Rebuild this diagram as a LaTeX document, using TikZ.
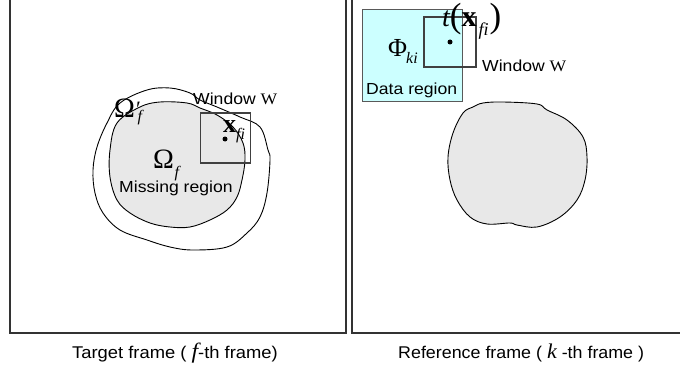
\documentclass[tikz,border=0pt]{standalone}
\usepackage{fontspec}
\setmainfont{Liberation Sans}
\newfontfamily\tms{Liberation Serif}
\definecolor{blobgray}{HTML}{E8E8E8}
\definecolor{datacyan}{HTML}{CCFFFF}
% font-size helper for the symbol labels
\newcommand\fsz[1]{\fontsize{#1}{#1}\selectfont}
\begin{document}
\begin{tikzpicture}[x=1pt,y=-1pt,
  frameline/.style={draw=black!80, line width=1.3pt},
  contour/.style={draw=black, line width=0.9pt},
  blob/.style={contour, fill=blobgray},
  winbox/.style={draw=black!75, line width=1.1pt},
  databox/.style={draw=black!65, line width=0.9pt, fill=datacyan},
  lbl/.style={inner sep=0pt, anchor=base west, xscale=1.1,
              font=\fontsize{16}{18}\selectfont},
  captext/.style={inner sep=0pt, anchor=base west,
              font=\fontsize{17}{19}\selectfont},
  mathtxt/.style={inner sep=0pt, anchor=base west, font=\tms}]
\useasboundingbox (0,0) rectangle (680,369);
\clip (0,0) rectangle (680,369);

% ---- target frame ----
\draw[frameline] (10,-10) rectangle (346,333);
% neighbourhood contour
\draw[contour] plot[smooth cycle, tension=0.6] coordinates {
  (120,103) (147,90) (170,88) (190,93) (200,100) (217,107) (240,117)
  (260,127) (268,150) (270,160) (267,193) (260,217) (247,233) (227,247)
  (193,250) (170,247) (147,240) (120,230) (103,213) (95,193) (93,170)
  (97,147) (107,123)};
% missing region
\draw[blob] plot[smooth cycle, tension=0.6] coordinates {
  (117,123) (140,107) (160,102) (187,103) (200,108) (217,115) (233,127)
  (243,143) (245,160) (242,180) (237,197) (227,210) (210,220) (190,227)
  (170,227) (150,223) (130,213) (117,200) (110,177) (110,150)};
\draw[winbox] (200.5,113) rectangle (250.5,163);
\fill (225,139) circle (2.5);

\node[lbl] (winL) at (193,104) {Window {\tms W}};
\node[mathtxt] (omp) at (114,117)
  {{\fsz{28}Ω}\rlap{\fsz{22}\kern1pt\raisebox{1pt}{′}}\kern2.5pt\raisebox{-5pt}{\itshape\fsz{16}f}};
\node[mathtxt] (om) at (153,168)
  {{\fsz{28}Ω}\kern0.5pt\raisebox{-9pt}{\itshape\fsz{16}f}};
\node[lbl] (miss) at (119,192) {Missing region};
\node[mathtxt] (xL) at (223,132)
  {{\bfseries\fsz{26}x}\raisebox{-7pt}{\itshape\fsz{16}fi}};

% ---- reference frame ----
\draw[frameline] (352,-10) rectangle (690,333);
\draw[databox] (362,9) rectangle (462,101);
\draw[winbox] (424,17) rectangle (476,67);
\fill (450,42) circle (2.5);
\draw[blob] plot[smooth cycle, tension=0.6] coordinates {
  (483,103) (503,102) (537,104) (547,110) (567,120) (583,137) (587,157)
  (585,180) (577,200) (560,217) (537,227) (517,225) (510,223) (487,224)
  (470,217) (457,200) (450,180) (448,157) (453,133) (463,113) (473,107)};

\node[mathtxt] (phi) at (388,57)
  {{\fsz{26}Φ}\kern-1pt\raisebox{-6pt}{\itshape\fsz{16}ki}};
\node[lbl] (data) at (366,95) {Data region};
\node[lbl] (winR) at (482,72) {Window {\tms W}};
\node[mathtxt] (tx) at (442,27)
  {{\itshape\fsz{28}t}\raisebox{-1pt}{\fsz{35}(}{\bfseries\fsz{30}x}\kern2pt\raisebox{-9pt}{\itshape\fsz{18}fi}\kern1pt\raisebox{-1pt}{\fsz{35})}};

% ---- captions ----
\node[captext, xscale=1.08] (capL) at (72,358) {Target frame ( {\tms\itshape\fsz{22}f}-th frame)};
\node[captext, xscale=1.05] (capR) at (398,358) {Reference frame ( {\tms\itshape\fsz{21}k} -th frame )};
\end{tikzpicture}
\end{document}
